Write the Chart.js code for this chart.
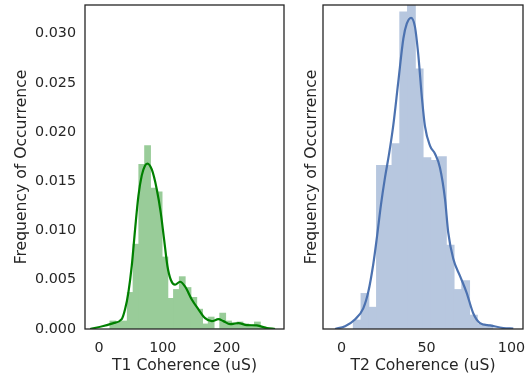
<!DOCTYPE html>
<html><head><meta charset="utf-8">
<script src="https://cdn.jsdelivr.net/npm/chart.js@4.4.1/dist/chart.umd.min.js"></script>
<style>
html,body{margin:0;padding:0;background:#fff;}
#wrap{position:relative;width:532px;height:379px;overflow:hidden;}
canvas{position:absolute;top:0;}
</style></head><body>
<div id="wrap">
<canvas id="c1" width="290" height="379" style="left:0px;width:290px;height:379px"></canvas>
<canvas id="c2" width="242" height="379" style="left:290px;width:242px;height:379px"></canvas>
</div>
<script>
// ---- T1 histogram (density) ----
const t1BinCenters = [21.7, 30.8, 39.8, 48.9, 58.0, 67.0, 76.1, 85.2, 94.2, 103.3, 112.4, 121.4, 130.5, 139.5, 148.6, 157.7, 166.7, 175.8, 184.8, 193.9, 203.0, 212.0, 221.1, 230.1, 239.2, 248.3, 257.3];
const t1Density    = [0.0008, 0.0007, 0.0008, 0.0037, 0.0086, 0.0167, 0.0186, 0.0143, 0.0139, 0.0073, 0.0031, 0.0040, 0.0053, 0.0042, 0.0032, 0.0020, 0.0005, 0.0012, 0.0, 0.0016, 0.0008, 0.0004, 0.0007, 0.0005, 0.0004, 0.0007, 0.0002];
// ---- T1 KDE curve ----
const t1KdeX = [-14, 6.8, 22.5, 35.6, 40.8, 46, 51.3, 56.5, 61.7, 67, 72.2, 75.8, 82.7, 90.5, 96.8, 102, 107.2, 112.5, 119.2, 127, 135, 145.4, 155.8, 166.3, 176.8, 187.2, 195, 205.5, 218.5, 231.7, 247.4, 263, 276];
const t1KdeY = [0, 0.0003, 0.0006, 0.001, 0.002, 0.0037, 0.0064, 0.0101, 0.0135, 0.0156, 0.0166, 0.0168, 0.0162, 0.0142, 0.0118, 0.0091, 0.0064, 0.0050, 0.0045, 0.0048, 0.0043, 0.0030, 0.0020, 0.0011, 0.0008, 0.0010, 0.0008, 0.0005, 0.0006, 0.0004, 0.00036, 0.0001, 0];
// ---- T2 histogram (density) ----
const t2BinCenters = [9.22, 13.78, 18.34, 22.90, 27.46, 32.02, 36.58, 41.14, 45.70, 50.26, 54.82, 59.38, 63.94, 68.50, 73.06, 77.62, 82.18, 86.74];
const t2Density    = [0.0009, 0.0036, 0.0022, 0.0166, 0.0166, 0.0188, 0.0322, 0.0352, 0.0264, 0.0174, 0.0171, 0.0175, 0.0085, 0.0040, 0.0049, 0.0014, 0.0005, 0.0004];
// ---- T2 KDE curve ----
const t2KdeX = [-3.8, 2.1, 7.9, 12.8, 15.8, 18.7, 20.9, 23.2, 25.6, 27.9, 30.4, 33.4, 36.4, 38.4, 40.9, 43.2, 45.2, 47.2, 49.1, 52.1, 55.0, 57.9, 60.9, 62.8, 65.8, 69.7, 73.6, 77.5, 81.5, 87.4, 95.2, 101.1];
const t2KdeY = [0, 0.00029, 0.00097, 0.0021, 0.0038, 0.0066, 0.0094, 0.0126, 0.0154, 0.0177, 0.0206, 0.0251, 0.0295, 0.0310, 0.0316, 0.0307, 0.0278, 0.0237, 0.0206, 0.0186, 0.0178, 0.0164, 0.0132, 0.0098, 0.0071, 0.0054, 0.0037, 0.0016, 0.0006, 0.00036, 0.0001, 0.00005];
// ---- tick labels ----
const yTicks = [0, 0.005, 0.010, 0.015, 0.020, 0.025, 0.030];
const t1XTicks = [0, 100, 200];
const t2XTicks = [0, 50, 100];

const TXT = '#262626';
const FONT = 'DejaVu Sans';

const framePlugin = {
  id: 'frame',
  afterDraw(chart) {
    const {ctx, chartArea: a} = chart;
    ctx.save();
    ctx.strokeStyle = TXT;
    ctx.lineWidth = 1.3;
    ctx.strokeRect(a.left, a.top, a.right - a.left, a.bottom - a.top);
    ctx.restore();
  }
};

function makeChart(id, cfg) {
  const bars = cfg.centers.map((x, i) => ({x: x, y: cfg.density[i]}));
  const kde = cfg.kdeX.map((x, i) => ({x: x, y: cfg.kdeY[i]}));
  return new Chart(document.getElementById(id), {
    type: 'bar',
    data: {
      datasets: [
        {type: 'line', data: kde, borderColor: cfg.lineColor, borderWidth: 2.2, pointRadius: 0,
         cubicInterpolationMode: 'monotone', fill: false, order: 0},
        {type: 'bar', data: bars, backgroundColor: cfg.barColor, borderWidth: 0, inflateAmount: 0.5,
         barPercentage: 1.0, categoryPercentage: 1.0, order: 1}
      ]
    },
    options: {
      responsive: false,
      devicePixelRatio: 1,
      animation: false,
      events: [],
      layout: {padding: {top: 5, right: cfg.padRight, bottom: 0, left: 0}},
      plugins: {legend: {display: false}, tooltip: {enabled: false}},
      scales: {
        x: {
          type: 'linear', min: cfg.xmin, max: cfg.xmax, offset: false,
          grid: {display: false, drawTicks: false},
          border: {display: false},
          afterBuildTicks: s => { s.ticks = cfg.xTicks.map(v => ({value: v})); },
          afterFit: s => { s.height = 50; s.paddingLeft = 0; s.paddingRight = 0; },
          ticks: {color: TXT, font: {family: FONT, size: 14.3}, padding: 11, maxRotation: 0, autoSkip: false},
          title: {display: true, text: cfg.xTitle, color: TXT, font: {family: FONT, size: 15.6},
                  padding: {top: 0, bottom: 3.5}}
        },
        y: {
          type: 'linear', min: 0, max: 0.0329,
          grid: {display: false, drawTicks: false},
          border: {display: false},
          afterBuildTicks: s => { s.ticks = yTicks.map(v => ({value: v})); },
          afterFit: s => { s.width = cfg.yWidth; s.paddingTop = 0; s.paddingBottom = 0; },
          ticks: {display: cfg.showYTicks, color: TXT, font: {family: FONT, size: 14.3}, padding: 9,
                  callback: v => v.toFixed(3)},
          title: {display: true, text: 'Frequency of Occurrence', color: TXT, font: {family: FONT, size: 15.6},
                  padding: {top: 12.5, bottom: 0}}
        }
      }
    },
    plugins: [framePlugin]
  });
}

makeChart('c1', {
  centers: t1BinCenters, density: t1Density, kdeX: t1KdeX, kdeY: t1KdeY,
  barColor: 'rgb(153,204,153)', lineColor: '#008000',
  xmin: -22, xmax: 290, xTicks: t1XTicks, xTitle: 'T1 Coherence (uS)',
  yWidth: 85, showYTicks: true, padRight: 6
});
makeChart('c2', {
  centers: t2BinCenters, density: t2Density, kdeX: t2KdeX, kdeY: t2KdeY,
  barColor: 'rgb(183,199,223)', lineColor: '#4c72b0',
  xmin: -10.9, xmax: 106.8, xTicks: t2XTicks, xTitle: 'T2 Coherence (uS)',
  yWidth: 33, showYTicks: false, padRight: 9
});
</script>
</body></html>
